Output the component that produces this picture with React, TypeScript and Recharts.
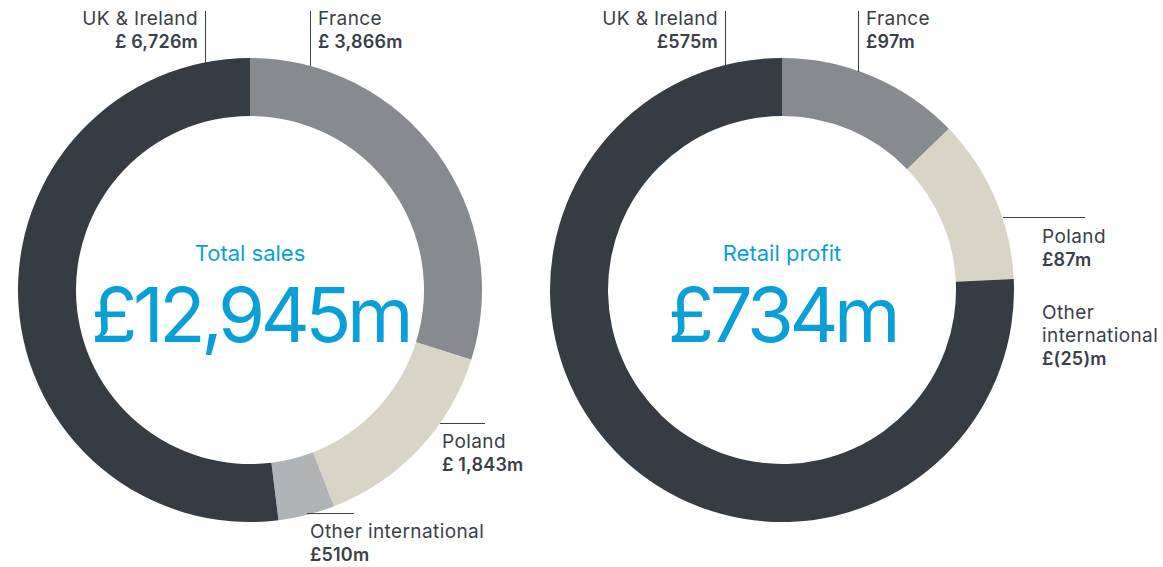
import React from 'react';
import { PieChart, Pie, Cell } from 'recharts';

// Total sales (£m), clockwise from 12 o'clock
const salesRegions = ['France', 'Poland', 'Other international', 'UK & Ireland'];
const salesValues = [3866, 1843, 510, 6726];
const salesColors = ['#878b8f', '#d8d5c7', '#b1b4b6', '#363c44'];

// Retail profit (£m); the negative other international figure has no arc
const profitRegions = ['France', 'Poland', 'UK & Ireland'];
const profitValues = [97, 87, 575];
const profitColors = ['#878b8f', '#d8d5c7', '#363c44'];

const salesData = salesRegions.map((name, i) => ({ name, value: salesValues[i] }));
const profitData = profitRegions.map((name, i) => ({ name, value: profitValues[i] }));

const TEXT = '#3a4048';
const BLUE = '#0a9fd9';
const FONT = 'Inter, "Noto Sans", sans-serif';

type LabelProps = {
  x: number;
  y: number;
  lines: string[];
  bold: string;
  align?: 'left' | 'right';
};

const Label: React.FC<LabelProps> = ({ x, y, lines, bold, align = 'left' }) => (
  <div
    style={{
      position: 'absolute',
      top: y,
      left: align === 'left' ? x : undefined,
      right: align === 'right' ? 1163 - x : undefined,
      textAlign: align,
      color: TEXT,
      fontSize: 19,
      letterSpacing: 0.4,
      lineHeight: '23px',
      whiteSpace: 'nowrap',
    }}
  >
    {lines.map((l) => (
      <div key={l}>{l}</div>
    ))}
    <div style={{ fontWeight: 600, fontSize: 18, letterSpacing: 0.2 }}>{bold}</div>
  </div>
);

const VLine = ({ x, y1, y2 }: { x: number; y1: number; y2: number }) => (
  <div style={{ position: 'absolute', left: x, top: y1, width: 1, height: y2 - y1, background: TEXT }} />
);
const HLine = ({ y, x1, x2 }: { y: number; x1: number; x2: number }) => (
  <div style={{ position: 'absolute', left: x1, top: y, width: x2 - x1, height: 1, background: TEXT }} />
);

const Center = ({ cx, title, value }: { cx: number; title: string; value: string }) => (
  <div style={{ position: 'absolute', left: cx - 200, width: 400, top: 238, textAlign: 'center', color: BLUE }}>
    <div style={{ fontSize: 22, lineHeight: '30px' }}>{title}</div>
    <div style={{ fontSize: 76, lineHeight: '86px', letterSpacing: -4.5, marginTop: 3 }}>{value}</div>
  </div>
);

export default function App() {
  return (
    <div
      style={{
        position: 'fixed',
        top: 0,
        left: 0,
        width: 1163,
        height: 567,
        background: '#fff',
        fontFamily: FONT,
      }}
    >
      <PieChart width={1163} height={567} margin={{ top: 0, right: 0, bottom: 0, left: 0 }}>
        <Pie
          data={salesData}
          dataKey="value"
          cx={250}
          cy={290}
          innerRadius={174}
          outerRadius={232}
          startAngle={90}
          endAngle={-270}
          stroke="none"
          isAnimationActive={false}
        >
          {salesData.map((d, i) => (
            <Cell key={d.name} fill={salesColors[i]} />
          ))}
        </Pie>
        <Pie
          data={profitData}
          dataKey="value"
          cx={782}
          cy={290}
          innerRadius={174}
          outerRadius={232}
          startAngle={90}
          endAngle={-270}
          stroke="none"
          isAnimationActive={false}
        >
          {profitData.map((d, i) => (
            <Cell key={d.name} fill={profitColors[i]} />
          ))}
        </Pie>
      </PieChart>

      <Center cx={250} title="Total sales" value="£12,945m" />
      <Center cx={782} title="Retail profit" value="£734m" />

      {/* Total sales labels */}
      <VLine x={205} y1={11} y2={63} />
      <VLine x={310} y1={11} y2={66} />
      <Label x={198} y={7} lines={['UK & Ireland']} bold="£ 6,726m" align="right" />
      <Label x={318} y={7} lines={['France']} bold="£ 3,866m" />
      <HLine y={423} x1={440} x2={485} />
      <Label x={442} y={430} lines={['Poland']} bold="£ 1,843m" />
      <HLine y={513} x1={307} x2={354} />
      <Label x={310} y={520} lines={['Other international']} bold="£510m" />

      {/* Retail profit labels */}
      <VLine x={725} y1={11} y2={66} />
      <VLine x={858} y1={11} y2={72} />
      <Label x={718} y={7} lines={['UK & Ireland']} bold="£575m" align="right" />
      <Label x={866} y={7} lines={['France']} bold="£97m" />
      <HLine y={217} x1={1003} x2={1085} />
      <Label x={1042} y={225} lines={['Poland']} bold="£87m" />
      <Label x={1042} y={301} lines={['Other', 'international']} bold="£(25)m" />
    </div>
  );
}
